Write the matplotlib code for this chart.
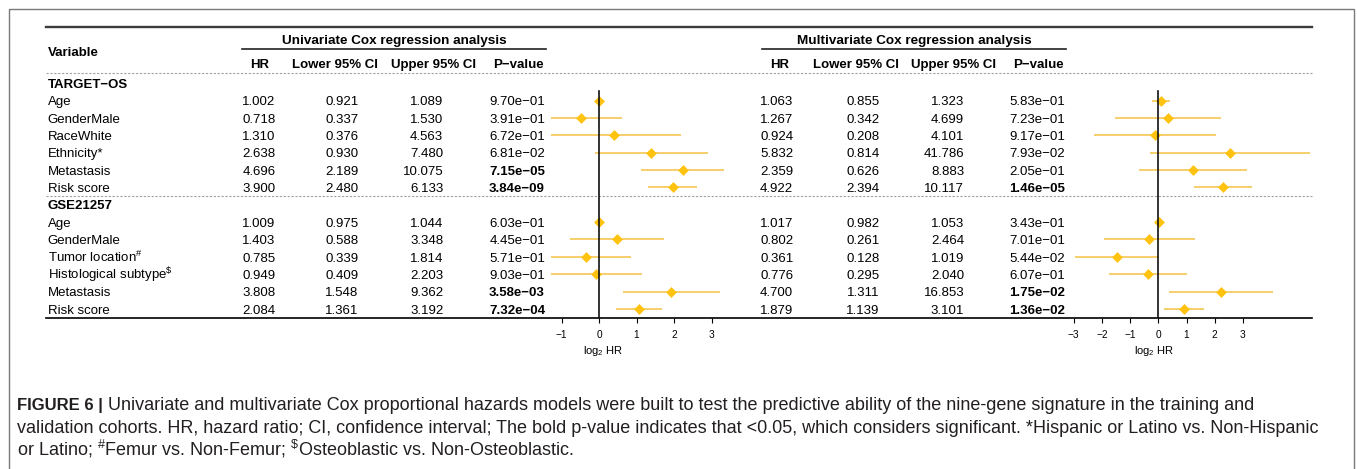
import numpy as np
import matplotlib
matplotlib.use("Agg")
import matplotlib.pyplot as plt
from matplotlib.patches import Rectangle
from matplotlib import transforms

plt.rcParams['font.family'] = ['Liberation Sans', 'DejaVu Sans']
plt.rcParams['mathtext.fontset'] = 'custom'
plt.rcParams['mathtext.rm'] = 'Liberation Sans'
plt.rcParams['mathtext.it'] = 'Liberation Sans:italic'
plt.rcParams['mathtext.bf'] = 'Liberation Sans:bold'

# table data
groups = ["TARGET\u2212OS", "GSE21257"]
vars_target = ["Age", "GenderMale", "RaceWhite", "Ethnicity*", "Metastasis", "Risk score"]
vars_gse = ["Age", "GenderMale", r"Tumor location$^{\#}$", r"Histological subtype$^{\$}$",
            "Metastasis", "Risk score"]

uni_hr = [1.002, 0.718, 1.310, 2.638, 4.696, 3.900, 1.009, 1.403, 0.785, 0.949, 3.808, 2.084]
uni_lo = [0.921, 0.337, 0.376, 0.930, 2.189, 2.480, 0.975, 0.588, 0.339, 0.409, 1.548, 1.361]
uni_hi = [1.089, 1.530, 4.563, 7.480, 10.075, 6.133, 1.044, 3.348, 1.814, 2.203, 9.362, 3.192]
uni_p = ["9.70e-01", "3.91e-01", "6.72e-01", "6.81e-02", "7.15e-05", "3.84e-09",
         "6.03e-01", "4.45e-01", "5.71e-01", "9.03e-01", "3.58e-03", "7.32e-04"]

multi_hr = [1.063, 1.267, 0.924, 5.832, 2.359, 4.922, 1.017, 0.802, 0.361, 0.776, 4.700, 1.879]
multi_lo = [0.855, 0.342, 0.208, 0.814, 0.626, 2.394, 0.982, 0.261, 0.128, 0.295, 1.311, 1.139]
multi_hi = [1.323, 4.699, 4.101, 41.786, 8.883, 10.117, 1.053, 2.464, 1.019, 2.040, 16.853, 3.101]
multi_p = ["5.83e-01", "7.23e-01", "9.17e-01", "7.93e-02", "2.05e-01", "1.46e-05",
           "3.43e-01", "7.01e-01", "5.44e-02", "6.07e-01", "1.75e-02", "1.36e-02"]

col_headers = ["HR", "Lower 95% CI", "Upper 95% CI", "P\u2212value"]
ticks_uni = [-1, 0, 1, 2, 3]
ticks_multi = [-3, -2, -1, 0, 1, 2, 3]

caption_lines = [
    " Univariate and multivariate Cox proportional hazards models were built to test the predictive ability of the nine-gene signature in the training and",
    "validation cohorts. HR, hazard ratio; CI, confidence interval; The bold p-value indicates that <0.05, which considers significant. *Hispanic or Latino vs. Non-Hispanic",
    r"or Latino; $^{\#}$Femur vs. Non-Femur; $^{\$}$Osteoblastic vs. Non-Osteoblastic.",
]

W, H = 1357, 469
fig = plt.figure(figsize=(W / 100, H / 100), dpi=100)
base = fig.add_axes([0, 0, 1, 1])
base.set_xlim(0, W)
base.set_ylim(H, 0)
base.axis('off')

fs = 9.5
dy = 4.7
pt_col = '#FFC20E'
ci_col = '#F4C142'

# layout in pixels
row0, row_h = 83.3, 17.35
tab_top, head_dash, mid_dash, tab_bot = 26.7, 73.3, 195.9, 318.2
x_l, x_r = 46, 1312

labels = [groups[0]] + vars_target + [groups[1]] + vars_gse
is_group = [True] + [False] * 6 + [True] + [False] * 6
data_rows = [i for i, g in enumerate(is_group) if not g]


def ry(i):
    return row0 + i * row_h


# frame around the figure panel
base.add_patch(Rectangle((8.5, 9.5), 1345.5, 600, fill=False, ec='#7a7a7a', lw=1.0))

# table rules
base.plot([x_l, x_r], [tab_top, tab_top], color='#3c3c3c', lw=1.7)
base.plot([x_l, x_r], [head_dash, head_dash], color='#a0a0a0', lw=0.8, ls=(0, (2, 1.5)))
base.plot([x_l, x_r], [mid_dash, mid_dash], color='#a0a0a0', lw=0.8, ls=(0, (2, 1.5)))
base.plot([x_l, x_r], [tab_bot, tab_bot], color='black', lw=1.2)

base.text(47.5, 51.7 + dy, "Variable", fontsize=fs, fontweight='bold', va='baseline')
for i, lab in enumerate(labels):
    base.text(47.5, ry(i) + dy, lab, fontsize=fs, va='baseline',
              fontweight='bold' if is_group[i] else 'normal')


def draw_table(title, title_x, line_x, head_x, right_x, hr, lo, hi, pv):
    base.text(title_x, 39 + dy, title, fontsize=fs + 0.2, fontweight='bold', ha='center', va='baseline')
    base.plot(line_x, [49.3, 49.3], color='#222222', lw=1.2)
    for hx, h in zip(head_x, col_headers):
        base.text(hx, 63.3 + dy, h, fontsize=fs, fontweight='bold', ha='center', va='baseline')
    for k, r in enumerate(data_rows):
        vals = [f"{hr[k]:.3f}", f"{lo[k]:.3f}", f"{hi[k]:.3f}", pv[k].replace('-', '\u2212')]
        for j, v in enumerate(vals):
            bold = j == 3 and float(pv[k]) < 0.05
            base.text(right_x[j], ry(r) + dy, v, fontsize=fs, ha='right', va='baseline',
                      fontweight='bold' if bold else 'normal')


draw_table("Univariate Cox regression analysis", 394.2, [242.3, 546],
           [259.5, 335, 433.8, 518.3], [275.5, 358.3, 443.3, 545],
           uni_hr, uni_lo, uni_hi, uni_p)
draw_table("Multivariate Cox regression analysis", 914.5, [761.7, 1066],
           [780, 855.8, 953.3, 1038], [793.3, 879.3, 964.3, 1065],
           multi_hr, multi_lo, multi_hi, multi_p)


def forest(zero_px, ppu, xlim, hr, lo, hi, ticks, lab_x):
    x0 = zero_px + xlim[0] * ppu
    x1 = zero_px + xlim[1] * ppu
    ax = fig.add_axes([x0 / W, 1 - tab_bot / H, (x1 - x0) / W, (tab_bot - head_dash) / H])
    ax.set_xlim(*xlim)
    ybot = (tab_bot - row0) / row_h
    ax.set_ylim(ybot, (head_dash - row0) / row_h)
    ax.patch.set_visible(False)
    for s in ax.spines.values():
        s.set_visible(False)
    ax.hlines(data_rows, np.log2(lo), np.log2(hi), color=ci_col, lw=1.1)
    ax.plot(np.log2(hr), data_rows, 'D', ms=4.6, color=pt_col, mec=pt_col, mew=0.4, ls='none')
    ax.plot([0, 0], [0.45, ybot], color='#111111', lw=1.2)
    ax.set_yticks([])
    ax.set_xticks(ticks)
    ax.tick_params(axis='x', direction='out', length=3.6, width=0.8, labelsize=7.3, pad=5)
    trans = transforms.blended_transform_factory(ax.transData, base.transData)
    ax.text(lab_x, 354, "log$_2$ HR", transform=trans, ha='center', va='baseline', fontsize=8)


forest(599, 37.5, (-1.28, 4.03), uni_hr, uni_lo, uni_hi, ticks_uni, 0.1)
forest(1158.3, 28.2, (-3.02, 5.44), multi_hr, multi_lo, multi_hi, ticks_multi, -0.15)

# caption
cap_col = '#231f20'
cap_fs = 13
cap_y = [410, 433, 456]
t = base.text(17, cap_y[0], "FIGURE 6 |", fontsize=12, fontweight='bold', va='baseline', color=cap_col)
fig.canvas.draw()
bb = t.get_window_extent()
x_after = base.transData.inverted().transform((bb.x1, bb.y0))[0]
base.text(x_after, cap_y[0], caption_lines[0], fontsize=cap_fs, va='baseline', color=cap_col)
base.text(17, cap_y[1], caption_lines[1], fontsize=cap_fs, va='baseline', color=cap_col)
base.text(17, cap_y[2], caption_lines[2], fontsize=cap_fs, va='baseline', color=cap_col)

fig.savefig("out.png", dpi=100)
